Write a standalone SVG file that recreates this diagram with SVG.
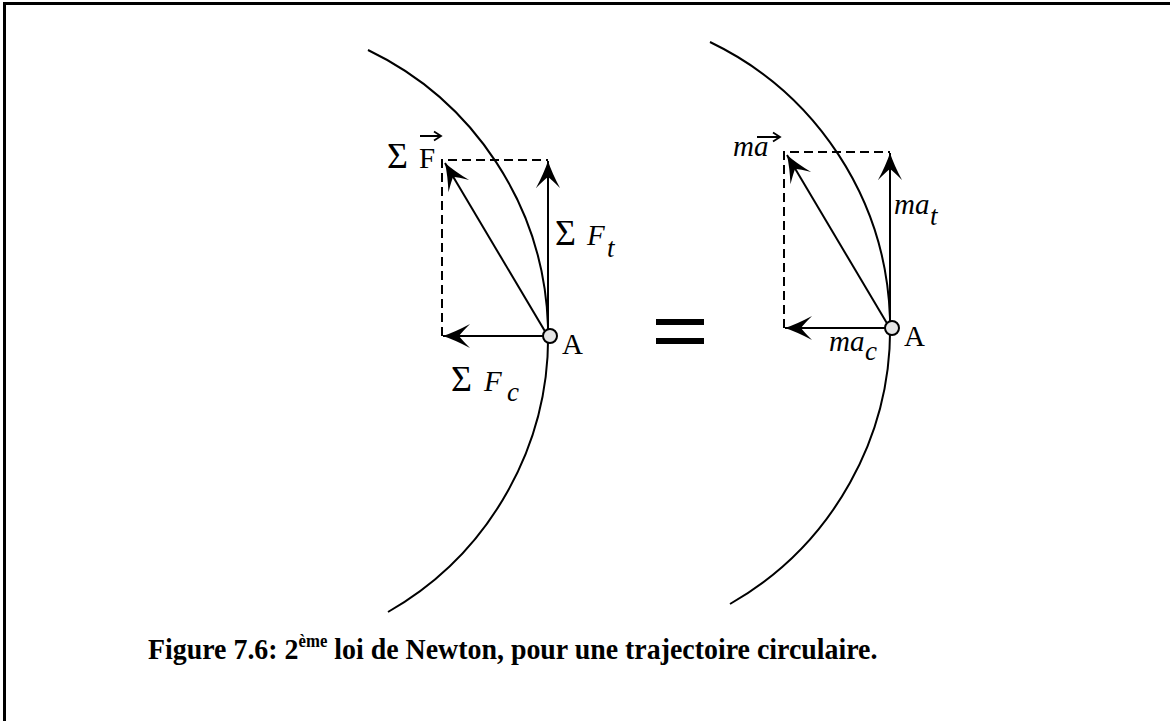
<svg xmlns="http://www.w3.org/2000/svg" width="1170" height="721" viewBox="0 0 1170 721">
  <style>
    .curve { fill: none; stroke: #000; stroke-width: 2; }
    .vec { fill: none; stroke: #000; stroke-width: 2; marker-end: url(#head); }
    .dash { fill: none; stroke: #000; stroke-width: 2; stroke-dasharray: 9 5; }
    .pt { fill: #e6e6e6; stroke: #000; stroke-width: 2; }
    .lbl { font-family: "Liberation Serif", "Times New Roman", serif; font-size: 29px; fill: #000; }
    .sig { font-size: 36px; }
    .it { font-style: italic; }
    .sub { font-size: 27px; }
    .acc { fill: none; stroke: #000; stroke-width: 1.8; }
    .cap { font-family: "Liberation Serif", "Times New Roman", serif; font-size: 30px; font-weight: bold; fill: #000; }
  </style>
  <defs>
    <marker id="head" viewBox="-28 -13 30 26" markerWidth="30" markerHeight="26" refX="0" refY="0" orient="auto" markerUnits="userSpaceOnUse">
      <path d="M0,0 Q-12,-4 -27,-12 Q-19,-4 -16,0 Q-19,4 -27,12 Q-12,4 0,0 Z" fill="#000"/>
    </marker>
  </defs>
  <rect width="1170" height="721" fill="#fff"/>
  <path d="M4.5,721 V3.5 H1170" fill="none" stroke="#000" stroke-width="3"/>

  <g id="trajectory-left">
    <path class="curve" d="M368,50 A317.5,317.5 0 0 1 388,612"/>
  </g>
  <g id="trajectory-right">
    <path class="curve" d="M710,42 A317.5,317.5 0 0 1 730,604"/>
  </g>

  <g id="connectors">
    <path class="dash" d="M442,336 V160 H548"/>
    <line class="vec" x1="548" y1="336" x2="548" y2="161"/>
    <line class="vec" x1="548" y1="336" x2="443" y2="336"/>
    <line class="vec" x1="546" y1="333" x2="445" y2="163"/>
    <path class="dash" d="M784,328 V152 H890"/>
    <line class="vec" x1="890" y1="328" x2="890" y2="153"/>
    <line class="vec" x1="890" y1="328" x2="785" y2="328"/>
    <line class="vec" x1="888" y1="325" x2="787" y2="155"/>
  </g>

  <g id="point-A-left">
    <circle class="pt" cx="550" cy="336" r="7"/>
    <text class="lbl" x="562" y="354">A</text>
  </g>
  <g id="point-A-right">
    <circle class="pt" cx="892" cy="328" r="7"/>
    <text class="lbl" x="904" y="346">A</text>
  </g>

  <g id="label-sumF">
    <text class="lbl sig" x="387" y="168">Σ</text>
    <text class="lbl" x="419" y="168">F</text>
    <path class="acc" d="M420,136 H441 M434,131.5 L441,136 L434,140.5"/>
  </g>
  <g id="label-sumFt">
    <text class="lbl sig" x="555" y="245">Σ</text>
    <text class="lbl it" x="587" y="245">F</text>
    <text class="lbl it sub" x="607" y="257">t</text>
  </g>
  <g id="label-sumFc">
    <text class="lbl sig" x="451" y="391">Σ</text>
    <text class="lbl it" x="484" y="391">F</text>
    <text class="lbl it sub" x="507" y="401">c</text>
  </g>

  <g id="label-ma">
    <text class="lbl it" x="733" y="156">ma</text>
    <path class="acc" d="M757,137 H780 M773,132.5 L780,137 L773,141.5"/>
  </g>
  <g id="label-mat">
    <text class="lbl it" x="894" y="214">ma</text>
    <text class="lbl it sub" x="930" y="225">t</text>
  </g>
  <g id="label-mac">
    <text class="lbl it" x="829" y="351">ma</text>
    <text class="lbl it sub" x="865" y="360">c</text>
  </g>

  <g id="equals">
    <rect x="656" y="319" width="48" height="6" fill="#000"/>
    <rect x="656" y="338" width="48" height="6" fill="#000"/>
  </g>

  <g id="caption">
    <text class="cap" transform="translate(148,659) scale(0.93,1)" x="0" y="0">Figure 7.6: 2<tspan font-size="18" dy="-12">ème</tspan><tspan dy="12"> loi de Newton, pour une trajectoire circulaire.</tspan></text>
  </g>
</svg>
